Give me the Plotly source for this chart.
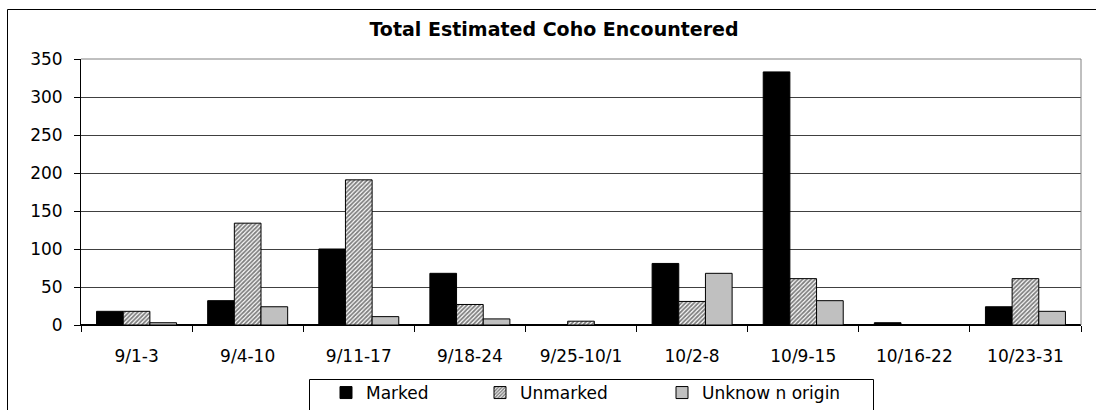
import plotly.graph_objects as go

categories = ["9/1-3", "9/4-10", "9/11-17", "9/18-24", "9/25-10/1",
              "10/2-8", "10/9-15", "10/16-22", "10/23-31"]
marked = [18, 32, 100, 68, 0, 81, 333, 3, 24]
unmarked = [18, 134, 191, 27, 5, 31, 61, 0, 61]
unknown = [3, 24, 11, 8, 0, 68, 32, 0, 18]
series_names = ["Marked", "Unmarked", "Unknow n origin"]
y_ticks = [0, 50, 100, 150, 200, 250, 300, 350]

FONT = "DejaVu Sans"

fig = go.Figure()
fig.add_trace(go.Bar(
    x=categories, y=marked, name=series_names[0], legend="legend",
    marker=dict(color="black", line=dict(color="black", width=1)),
))
fig.add_trace(go.Bar(
    x=categories, y=unmarked, name=series_names[1], legend="legend2",
    marker=dict(color="white", line=dict(color="black", width=1),
                pattern=dict(shape="/", fgcolor="black", bgcolor="white",
                             size=3, solidity=0.6)),
))
fig.add_trace(go.Bar(
    x=categories, y=unknown, name=series_names[2], legend="legend3",
    marker=dict(color="#C0C0C0", line=dict(color="black", width=1)),
))

H = 266.0  # plot height in px
def py(px):
    return (325 - px) / H
def px_x(px):
    return (px - 81) / 1000.0

leg_common = dict(bgcolor="rgba(0,0,0,0)", borderwidth=0,
                  font=dict(family=FONT, size=17, color="black"),
                  yanchor="middle", xanchor="left",
                  yref="container", y=1 - 393 / 410,
                  orientation="h")

fig.update_layout(
    width=1096, height=410, autosize=False,
    margin=dict(l=81, r=15, t=59, b=85, autoexpand=False),
    paper_bgcolor="white", plot_bgcolor="white",
    barmode="group", bargap=0.28, bargroupgap=0,
    font=dict(family=FONT, size=17, color="black"),
    title=dict(text="<b>Total Estimated Coho Encountered</b>",
               x=554 / 1096, xanchor="center", xref="container",
               y=1 - 29 / 410, yanchor="middle", yref="container",
               font=dict(family=FONT, size=19, color="black")),
    legend=dict(x=px_x(346 - 20), **leg_common),
    legend2=dict(x=px_x(500 - 20), **leg_common),
    legend3=dict(x=px_x(682 - 20), **leg_common),
    showlegend=True,
    xaxis=dict(showline=True, linecolor="black", linewidth=1,
               ticks="outside", tickson="boundaries", ticklen=6,
               tickcolor="black", showgrid=False,
               ticklabelstandoff=16,
               tickfont=dict(family=FONT, size=17, color="black")),
    yaxis=dict(range=[0, 350], tickvals=y_ticks, showline=True,
               linecolor="black", linewidth=1, ticks="outside", ticklen=6,
               tickcolor="black", showgrid=True, gridcolor="#404040",
               gridwidth=1, zeroline=True, zerolinecolor="black",
               ticklabelstandoff=8,
               tickfont=dict(family=FONT, size=17, color="black")),
    shapes=[
        # outer chart border
        dict(type="rect", xref="paper", yref="paper",
             x0=px_x(7.5), x1=px_x(1110), y0=py(440), y1=py(9.5),
             line=dict(color="black", width=1), layer="below"),
        # plot area top/right border (gray)
        dict(type="line", xref="paper", yref="paper",
             x0=0, x1=1, y0=1, y1=1, line=dict(color="#808080", width=1)),
        dict(type="line", xref="paper", yref="paper",
             x0=1, x1=1, y0=0, y1=1, line=dict(color="#808080", width=1)),
        # legend box
        dict(type="rect", xref="paper", yref="paper",
             x0=px_x(309.5), x1=px_x(873.5), y0=py(440), y1=py(379.5),
             line=dict(color="black", width=1)),
    ],
)

fig.write_html("out.html")
